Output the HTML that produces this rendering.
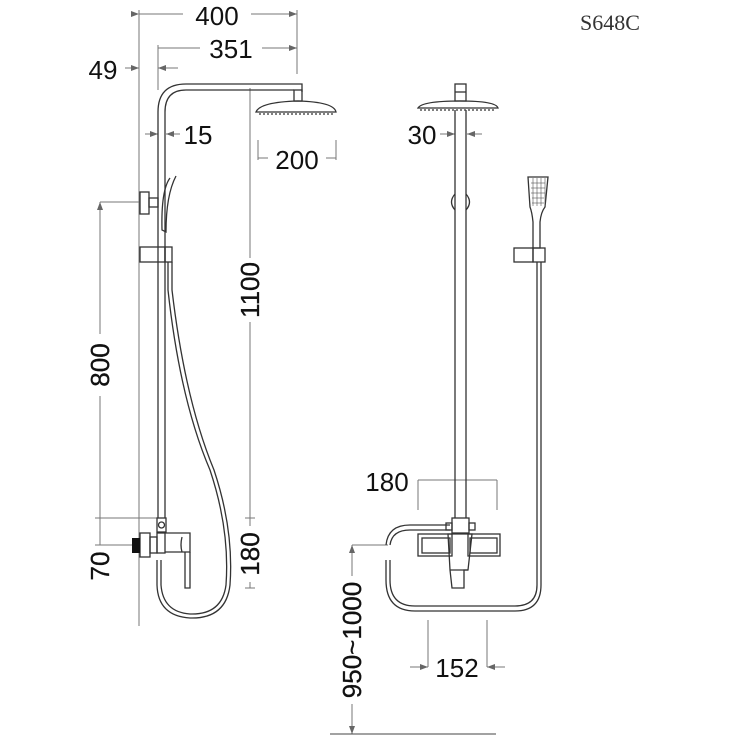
<!DOCTYPE html>
<html><head><meta charset="utf-8"><style>
html,body{margin:0;padding:0;background:#fff;}
svg{display:block}
text{font-family:"Liberation Sans",sans-serif;fill:#111;}
</style></head><body>
<svg width="740" height="740" viewBox="0 0 740 740" xmlns="http://www.w3.org/2000/svg">
<defs>
<marker id="a" markerWidth="8" markerHeight="6" refX="8" refY="3" orient="auto" markerUnits="userSpaceOnUse"><path d="M0,0 L8,3 L0,6 z" fill="#666"/></marker>
</defs>
<g stroke="#777" stroke-width="1" fill="none">
<line x1="139" y1="10" x2="139" y2="626"/>
<line x1="139" y1="14" x2="183" y2="14" marker-start="url(#a)"/>
<line x1="251" y1="14" x2="297" y2="14" marker-end="url(#a)"/>
<line x1="297" y1="10" x2="297" y2="74"/>
<line x1="158" y1="48" x2="200" y2="48"/>
<line x1="262" y1="48" x2="297" y2="48" marker-end="url(#a)"/>
<line x1="158" y1="45" x2="158" y2="90"/>
<line x1="125" y1="68" x2="139" y2="68" marker-end="url(#a)"/>
<line x1="178" y1="68" x2="158" y2="68" marker-end="url(#a)"/>
<line x1="145" y1="134" x2="158" y2="134" marker-end="url(#a)"/>
<line x1="180" y1="134" x2="166" y2="134" marker-end="url(#a)"/>
<line x1="258" y1="140" x2="258" y2="160"/><line x1="336" y1="140" x2="336" y2="160"/>
<line x1="258" y1="158" x2="268" y2="158"/><line x1="326" y1="158" x2="336" y2="158"/>
<line x1="250" y1="88" x2="250" y2="258"/>
<line x1="250" y1="322" x2="250" y2="518"/>
<line x1="245" y1="518" x2="255" y2="518"/>
<line x1="250" y1="518" x2="250" y2="526"/>
<line x1="250" y1="582" x2="250" y2="588"/><line x1="245" y1="588" x2="255" y2="588"/>
<line x1="100" y1="202" x2="140" y2="202"/>
<line x1="100" y1="212" x2="100" y2="202" marker-end="url(#a)"/>
<line x1="100" y1="212" x2="100" y2="334"/>
<line x1="100" y1="396" x2="100" y2="518"/>
<line x1="100" y1="518" x2="158" y2="518"/>
<line x1="95" y1="518" x2="105" y2="518"/>
<line x1="100" y1="518" x2="100" y2="545"/>
<line x1="100" y1="545" x2="140" y2="545"/>
<line x1="95" y1="545" x2="105" y2="545"/>
<line x1="440" y1="134" x2="455" y2="134" marker-end="url(#a)"/>
<line x1="482" y1="134" x2="467" y2="134" marker-end="url(#a)"/>
<line x1="418" y1="480" x2="497" y2="480"/>
<line x1="418" y1="480" x2="418" y2="510"/><line x1="497" y1="480" x2="497" y2="510"/>
<line x1="352" y1="545" x2="388" y2="545"/>
<line x1="352" y1="576" x2="352" y2="545" marker-end="url(#a)"/>
<line x1="352" y1="704" x2="352" y2="734" marker-end="url(#a)"/>
<line x1="330" y1="734" x2="496" y2="734" stroke="#444"/>
<line x1="428" y1="620" x2="428" y2="667"/><line x1="487" y1="620" x2="487" y2="667"/>
<line x1="410" y1="667" x2="428" y2="667" marker-end="url(#a)"/>
<line x1="505" y1="667" x2="487" y2="667" marker-end="url(#a)"/>
</g>
<g stroke="#333" stroke-width="1.3" fill="none">
<path d="M158,518 V112 Q158,84 186,84 H302 V92"/>
<path d="M165,518 V112 Q165,90 186,90 H294"/>
<rect x="294" y="90" width="8" height="11"/>
<path d="M256,112 Q260,102 298,101 Q334,102 336,112 Z"/>
<line x1="259" y1="114" x2="333" y2="114" stroke-dasharray="2,2"/>
<rect x="140" y="192" width="9" height="22"/>
<rect x="149" y="198" width="9" height="9"/>
<path d="M170,178 Q161,190 162,230 L166,232 Q166,195 176,176"/>
<rect x="140" y="247" width="25" height="15"/>
<rect x="165" y="247" width="7" height="15"/>
<path d="M168,262 V290 Q180,400 210,470 Q230,530 226,585 Q222,615 190,614 Q163,612 161,585 V560"/>
<path d="M172,262 V290 Q185,400 214,470 Q234,530 230,585 Q226,619 190,618 Q158,616 157,585 V560"/>
<rect x="157" y="518" width="9" height="14"/>
<circle cx="161.5" cy="525" r="3"/>
<rect x="140" y="533" width="10" height="24"/>
<rect x="150" y="537" width="7" height="16"/>
<rect x="157" y="533" width="8" height="20"/>
<path d="M165,533 H190 V552 H165"/>
<path d="M182,537 Q180,545 182,552"/>
<path d="M185,552 V588 H190 V552"/>
<line x1="455" y1="110" x2="455" y2="518"/>
<line x1="466" y1="110" x2="466" y2="518"/>
<rect x="455" y="84" width="11" height="17"/>
<line x1="455" y1="92" x2="466" y2="92"/>
<path d="M418,108 Q422,101 460,101 Q496,101 498,108 Z"/>
<line x1="420" y1="110" x2="496" y2="110" stroke-dasharray="2,2"/>
<path d="M455,194 Q448,202 455,210"/><path d="M466,194 Q473,202 466,210"/>
<path d="M528,177 H548 L545,207 Q541,212 540,222 V248 H533 V222 Q532,212 530,207 Z"/>
<g stroke="#555" stroke-width="0.6">
<line x1="531" y1="183" x2="545" y2="183"/><line x1="531" y1="188" x2="545" y2="188"/><line x1="531" y1="193" x2="545" y2="193"/><line x1="532" y1="198" x2="544" y2="198"/><line x1="532" y1="203" x2="544" y2="203"/>
<line x1="533" y1="178" x2="533" y2="206"/><line x1="537" y1="178" x2="537" y2="206"/><line x1="541" y1="178" x2="541" y2="206"/><line x1="545" y1="178" x2="545" y2="206"/>
</g>
<rect x="514" y="248" width="19" height="14"/>
<rect x="533" y="248" width="12" height="14"/>
<path d="M537,262 V585 Q537,606 515,606 H415 Q390,606 390,580 V560"/>
<path d="M541,262 V585 Q541,611 515,611 H415 Q386,611 386,580 V560"/>
<path d="M390,545 Q392,530 410,530 H450"/>
<path d="M386,545 Q388,525 410,525 H450"/>
<rect x="452" y="518" width="17" height="15"/>
<rect x="446" y="523" width="6" height="7"/>
<rect x="469" y="523" width="6" height="7"/>
<rect x="418" y="534" width="34" height="22"/>
<rect x="422" y="538" width="28" height="15"/>
<rect x="468" y="534" width="32" height="22"/>
<rect x="470" y="538" width="27" height="15"/>
<path d="M448,534 H472 L468,570 H464 V588 H452 L450,570 Z"/>
<line x1="450" y1="570" x2="468" y2="570"/>
</g>
<rect x="132" y="538" width="8" height="15" fill="#111"/>
<g font-size="26">
<text x="217" y="25" text-anchor="middle">400</text>
<text x="231" y="58" text-anchor="middle">351</text>
<text x="103" y="79" text-anchor="middle">49</text>
<text x="198" y="144" text-anchor="middle">15</text>
<text x="297" y="169" text-anchor="middle">200</text>
<text x="422" y="144" text-anchor="middle">30</text>
<text x="387" y="491" text-anchor="middle">180</text>
<text x="457" y="677" text-anchor="middle">152</text>
<g stroke="#111" stroke-width="0.3">
<text transform="translate(259,290) rotate(-90)" text-anchor="middle">1100</text>
<text transform="translate(259,554) rotate(-90)" text-anchor="middle">180</text>
<text transform="translate(109,365) rotate(-90)" text-anchor="middle">800</text>
<text transform="translate(109,566) rotate(-90)" text-anchor="middle">70</text>
<text transform="translate(361,640) rotate(-90)" text-anchor="middle">950~1000</text>
</g>
</g>
<text x="610" y="30" text-anchor="middle" font-size="22" style="font-family:'Liberation Serif',serif;fill:#333">S648C</text>
</svg>
</body></html>
